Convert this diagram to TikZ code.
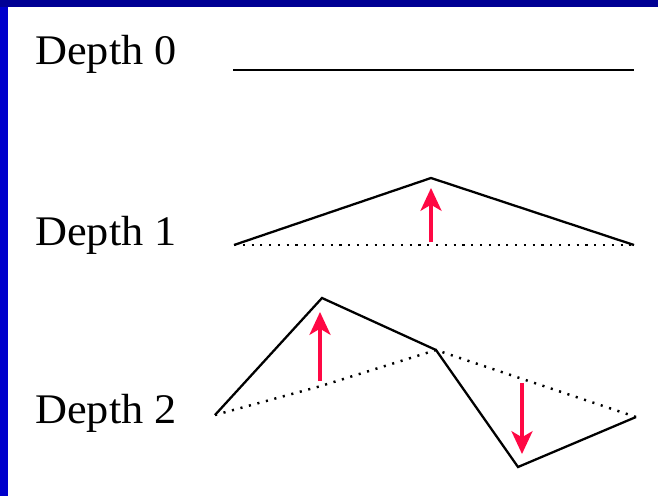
\documentclass[tikz,border=0pt]{standalone}
\usepackage{fontspec}
\setmainfont{Liberation Serif}
\definecolor{FrameNavy}{HTML}{000094}
\definecolor{FrameBlue}{HTML}{0000CC}
\definecolor{MoveRed}{HTML}{FF0844}
\usetikzlibrary{arrows.meta}

\begin{document}
\begin{tikzpicture}[x=0.02cm, y=-0.02cm,
    depthlabel/.style={anchor=base west, inner sep=0pt, font=\fontsize{24}{28}\selectfont, xscale=1.05},
    curve/.style={line width=1.3pt, line join=miter},
    chord/.style={line width=1.4pt, dash pattern=on 1.2pt off 3.8pt},
    movearrow/.style={MoveRed, line width=1.8pt, -{Stealth[length=13pt, width=12pt, inset=3.5pt]}}]
    \useasboundingbox (0,0) rectangle (658,496);
    \fill[white] (0,0) rectangle (658,496);
    \fill[FrameBlue] (0,0) rectangle (8,496);
    \fill[FrameNavy] (0,0) rectangle (658,7);

    \node[depthlabel] (d0) at (35,65) {Depth 0};
    \node[depthlabel] (d1) at (35,245) {Depth 1};
    \node[depthlabel] (d2) at (35,423) {Depth 2};

    % depth 0
    \coordinate (a0) at (233,70);
    \coordinate (b0) at (634,70);
    \draw[curve] (a0) -- (b0);

    % depth 1
    \coordinate (a1) at (234,245);
    \coordinate (m1) at (431,178);
    \coordinate (b1) at (634,245);
    \coordinate (m1base) at (431,242);
    \coordinate (m1tip) at (431,188);
    \draw[chord] (a1) -- (b1);
    \draw[curve] (a1) -- (m1) -- (b1);
    \draw[movearrow] (m1base) -- (m1tip);

    % depth 2
    \coordinate (a2) at (215,415);
    \coordinate (p2) at (322,298);
    \coordinate (m2) at (436,350);
    \coordinate (q2) at (518,467);
    \coordinate (b2) at (636,417);
    \coordinate (p2base) at (320,381);
    \coordinate (p2tip) at (320,312);
    \coordinate (q2base) at (522,383);
    \coordinate (q2tip) at (522,454);
    \coordinate (p2chord) at (321,386);
    \draw[chord] (a2) -- (p2chord) -- (m2) -- (b2);
    \draw[curve] (a2) -- (p2) -- (m2) -- (q2) -- (b2);
    \draw[movearrow] (p2base) -- (p2tip);
    \draw[movearrow] (q2base) -- (q2tip);
\end{tikzpicture}
\end{document}
